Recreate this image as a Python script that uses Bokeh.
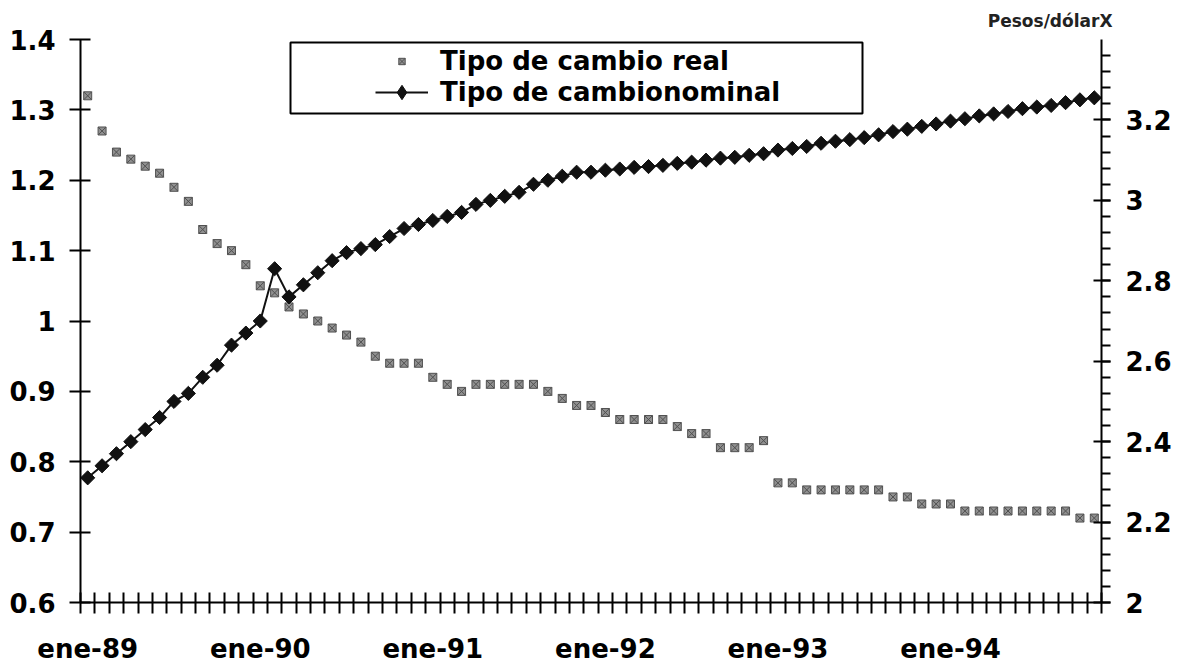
import math
from bokeh.plotting import figure
from bokeh.models import (Range1d, LinearAxis, FixedTicker, SingleIntervalTicker,
                          CustomJSTickFormatter, Legend, LegendItem, BoxAnnotation, Title)
from bokeh.embed import file_html
from bokeh.resources import INLINE

# ---------------- data (monthly, ene-89 .. nov-94) ----------------
real_rate = [1.32, 1.27, 1.24, 1.23, 1.22, 1.21, 1.19, 1.17, 1.13, 1.11, 1.10, 1.08,
             1.05, 1.04, 1.02, 1.01, 1.00, 0.99, 0.98, 0.97, 0.95, 0.94, 0.94, 0.94,
             0.92, 0.91, 0.90, 0.91, 0.91, 0.91, 0.91, 0.91, 0.90, 0.89, 0.88, 0.88,
             0.87, 0.86, 0.86, 0.86, 0.86, 0.85, 0.84, 0.84, 0.82, 0.82, 0.82, 0.83,
             0.77, 0.77, 0.76, 0.76, 0.76, 0.76, 0.76, 0.76, 0.75, 0.75, 0.74, 0.74,
             0.74, 0.73, 0.73, 0.73, 0.73, 0.73, 0.73, 0.73, 0.73, 0.72, 0.72]

nominal_rate = [2.31, 2.34, 2.37, 2.40, 2.43, 2.46, 2.50, 2.52, 2.56, 2.59, 2.64, 2.67,
                2.70, 2.83, 2.76, 2.79, 2.82, 2.85, 2.87, 2.88, 2.89, 2.91, 2.93, 2.94,
                2.95, 2.96, 2.97, 2.99, 3.00, 3.01, 3.02, 3.04, 3.05, 3.06, 3.07, 3.07,
                3.075, 3.078, 3.082, 3.084, 3.087, 3.092, 3.095, 3.100, 3.105, 3.107, 3.112, 3.116,
                3.125, 3.129, 3.134, 3.142, 3.147, 3.151, 3.156, 3.163, 3.171, 3.177, 3.184, 3.190,
                3.197, 3.203, 3.210, 3.215, 3.221, 3.228, 3.232, 3.236, 3.243, 3.250, 3.255]

tick_labels = ["ene-89", "ene-90", "ene-91", "ene-92", "ene-93", "ene-94"]
left_ticks = [0.6, 0.7, 0.8, 0.9, 1.0, 1.1, 1.2, 1.3, 1.4]
right_ticks = [2.0, 2.2, 2.4, 2.6, 2.8, 3.0, 3.2, 3.4]

series_real = "Tipo de cambio real"
series_nominal = "Tipo de cambionominal"
right_title = "Pesos/dólarX"

FONT = "DejaVu Sans"
n = len(real_rate)
x = list(range(n))

p = figure(width=1180, height=670, output_backend="svg", toolbar_location=None,
           x_range=Range1d(-0.5, n - 0.5), y_range=Range1d(left_ticks[0], left_ticks[-1]),
           x_axis_location=None, y_axis_location=None,
           min_border_left=80, min_border_right=79, min_border_top=39, min_border_bottom=68)
p.outline_line_color = None
p.background_fill_color = "white"
p.grid.visible = False
p.extra_y_ranges = {"nom": Range1d(right_ticks[0], right_ticks[-1])}

fmt = CustomJSTickFormatter(code="return String(Math.round(tick*10)/10);")

# x axis: labels on January categories, tick marks between every month
label_pos = [12 * i for i in range(len(tick_labels))]
xaxis = LinearAxis(
    ticker=FixedTicker(ticks=label_pos, minor_ticks=[i - 0.5 for i in range(n + 1)]),
    major_label_overrides={pos: lab for pos, lab in zip(label_pos, tick_labels)},
    axis_line_width=2, axis_line_color="black",
    major_tick_line_color=None, major_tick_in=0, major_tick_out=0,
    minor_tick_in=10, minor_tick_out=11, minor_tick_line_width=2, minor_tick_line_color="black",
    major_label_standoff=20,
    major_label_text_font=FONT, major_label_text_font_style="bold",
    major_label_text_font_size="26px", major_label_text_color="black")
p.add_layout(xaxis, "below")

yaxis = LinearAxis(
    ticker=FixedTicker(ticks=left_ticks), formatter=fmt,
    axis_line_width=2, axis_line_color="black",
    major_tick_in=10, major_tick_out=11, major_tick_line_width=2, major_tick_line_color="black",
    minor_tick_line_color=None, major_label_standoff=14,
    major_label_text_font=FONT, major_label_text_font_style="bold",
    major_label_text_font_size="26px", major_label_text_color="black")
p.add_layout(yaxis, "left")

y2axis = LinearAxis(
    y_range_name="nom", ticker=SingleIntervalTicker(interval=0.2, num_minor_ticks=5), formatter=fmt,
    axis_line_width=2, axis_line_color="black",
    major_tick_in=8, major_tick_out=9, major_tick_line_width=2, major_tick_line_color="black",
    minor_tick_in=0, minor_tick_out=9, minor_tick_line_width=2, minor_tick_line_color="black",
    major_label_standoff=15,
    major_label_text_font=FONT, major_label_text_font_style="bold",
    major_label_text_font_size="26px", major_label_text_color="black")
p.add_layout(y2axis, "right")

p.add_layout(Title(text=right_title, align="right", offset=-11, text_font=FONT,
                   text_font_style="bold", text_font_size="17px", text_color="#222222",
                   standoff=17), "above")

r_real = p.scatter(x, real_rate, marker="square_x", size=8,
                   fill_color="#909090", line_color="#505050", line_width=1)
r_line = p.line(x, nominal_rate, y_range_name="nom", line_color="#111111", line_width=2)
r_dia = p.scatter(x, nominal_rate, y_range_name="nom", marker="square", angle=math.pi / 4,
                  size=10, fill_color="#111111", line_color="#111111")
# hidden twin used only for the legend symbol (legend glyphs ignore marker angle)
r_leg_dia = p.scatter(x, nominal_rate, y_range_name="nom", marker="diamond", size=14,
                      fill_color="#111111", line_color="#111111", visible=False)

common = dict(orientation="vertical", padding=0, spacing=0, margin=0,
              glyph_width=53, label_standoff=12,
              label_text_font=FONT, label_text_font_style="bold",
              label_text_font_size="26px", label_text_color="black",
              border_line_color=None, background_fill_alpha=0)
p.add_layout(Legend(items=[LegendItem(label=series_real, renderers=[r_real])],
                    location=(295, 525), glyph_height=16, label_height=32, **common))
p.add_layout(Legend(items=[LegendItem(label=series_nominal, renderers=[r_line, r_leg_dia])],
                    location=(295, 492), glyph_height=36, label_height=36, **common))

# legend frame (screen units relative to the plot frame, y measured from its bottom)
p.add_layout(BoxAnnotation(left=210, right=782, top=560, bottom=489,
                           left_units="screen", right_units="screen",
                           top_units="screen", bottom_units="screen",
                           fill_color=None, fill_alpha=0,
                           line_color="black", line_width=2, line_alpha=1))

open("out.html", "w").write(file_html(p, INLINE))
